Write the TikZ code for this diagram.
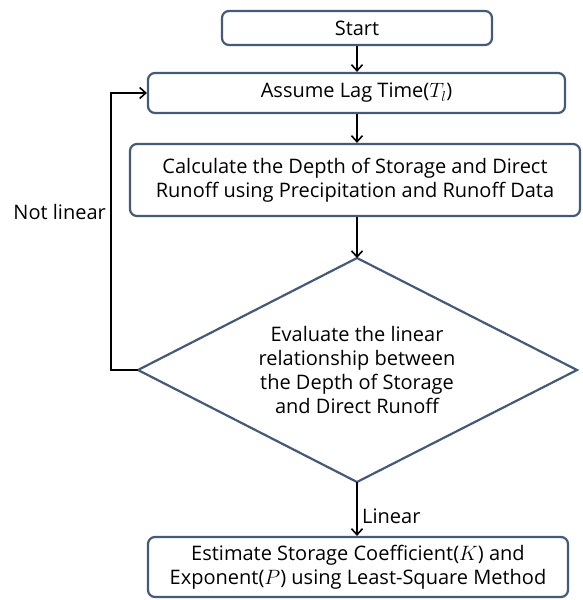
\documentclass[tikz,border=0pt]{standalone}
\usepackage{fontspec}
\setmainfont{Open Sans}
\usetikzlibrary{shapes.geometric,arrows.meta}
\definecolor{boxc}{RGB}{68,90,120}
\begin{document}
\begin{tikzpicture}[x=1pt,y=-1pt,
  procbox/.style={draw=boxc,line width=2.2pt,rounded corners=7pt,fill=white,font=\fontsize{20}{24}\selectfont,align=center,inner sep=0pt},
  arr/.style={-{Straight Barb[length=6pt,width=11pt]},line width=1.6pt,black},
  lbl/.style={font=\fontsize{20}{22}\selectfont,inner sep=0pt}]
\useasboundingbox (0,0) rectangle (582,600);
\node[procbox,minimum width=270pt,minimum height=34pt] (start) at (357,28) {Start};
\node[procbox,minimum width=417pt,minimum height=40pt] (lag) at (356.5,93) {Assume Lag Time($T_l$)};
\node[procbox,minimum width=450pt,minimum height=72pt] (calc) at (355,180) {Calculate the Depth of Storage and Direct\\Runoff using Precipitation and Runoff Data};
\draw[boxc,line width=2.2pt,fill=white] (357,258) coordinate (dtop) -- (577,370) coordinate (dright) -- (357,482) coordinate (dbot) -- (138,370) coordinate (dleft) -- cycle;
\node[font=\fontsize{20}{24}\selectfont,align=center] (eval) at (357,370) {Evaluate the linear\\relationship between\\the Depth of Storage\\and Direct Runoff};
\node[procbox,minimum width=420pt,minimum height=60pt] (est) at (358,567) {Estimate Storage Coefficient($K$) and\\Exponent($P$) using Least-Square Method};
\draw[arr] (start) -- (lag.north -| start);
\draw[arr] (lag.south -| start) -- (calc.north -| start);
\draw[arr] (calc.south -| dtop) -- (dtop);
\draw[arr] (dbot) -- (est.north -| dbot);
\coordinate (lc) at (111,370);
\draw[arr] (dleft) -- (lc) |- (lag.west);
\node[lbl,anchor=east] (nl) at (106,212) {Not linear};
\node[lbl,anchor=west] (lin) at (362,516) {Linear};
\end{tikzpicture}
\end{document}
